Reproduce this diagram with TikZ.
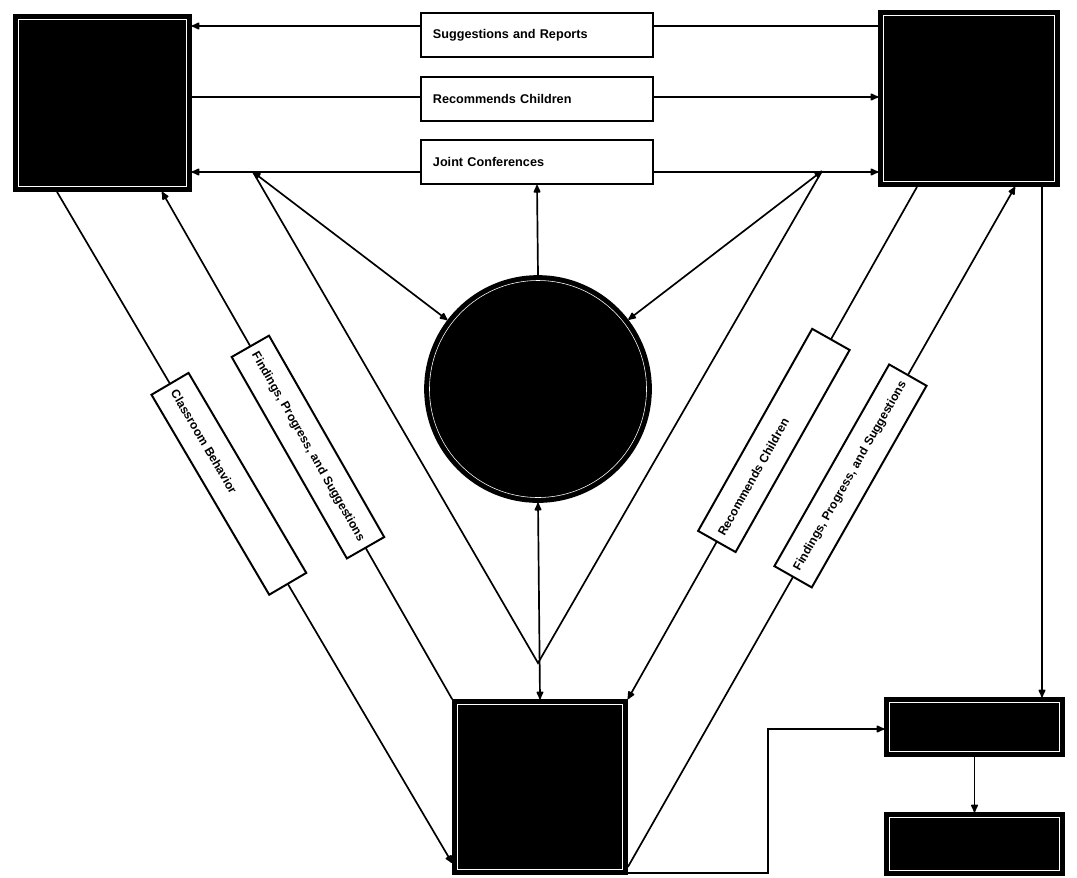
\documentclass[tikz,border=0pt]{standalone}
\usepackage{fontspec}
\setmainfont{Liberation Sans}
\usetikzlibrary{arrows.meta}
\tikzset{photo/.style={rectangle,fill=black,draw=black,line width=3.6pt,double=white,double distance=0.4pt,outer sep=3.8pt,inner sep=0pt},
  lbl/.style={rectangle,draw,fill=white,line width=1.4pt,minimum height=1.1cm,text width=5.2cm,inner xsep=0.3cm,align=left,font=\fontsize{9}{11}\selectfont\bfseries},
  side/.style={rectangle,draw,fill=white,line width=1.4pt,minimum height=1.075cm,text width=5.4cm,inner xsep=0.2cm,align=left,font=\fontsize{8.6}{10}\selectfont\bfseries},
  link/.style={line width=1.2pt},
  linkto/.style={line width=1.2pt,-{Latex[length=7pt,width=6pt,round]}},
  linkboth/.style={line width=1.2pt,{Latex[length=7pt,width=6pt,round]}-{Latex[length=7pt,width=6pt,round]}}}

\begin{document}
\begin{tikzpicture}[x=0.025cm,y=-0.025cm]
      \useasboundingbox (0,0) rectangle (1077,877);
      \node[photo,minimum width=4.2cm,minimum height=4.175cm] (TL) at (102.5,103) {};
      \node[photo,minimum width=4.275cm,minimum height=4.15cm] (TR) at (969,98.5) {};
      \node[photo,minimum size=4.125cm] (BB) at (540,787) {};
      \node[photo,minimum width=4.25cm,minimum height=1.225cm] (SB1) at (974.5,727) {};
      \node[photo,minimum width=4.25cm,minimum height=1.325cm] (SB2) at (974.5,844) {};
      \node[photo,circle,minimum size=5.425cm] (circ) at (538,389) {};

      \node[lbl] (sugg) at (537,35) {Suggestions and Reports};
      \node[lbl] (recch) at (537,99) {Recommends Children};
      \node[lbl] (joint) at (537,162) {Joint Conferences};

      \coordinate (j1) at (253,172);
      \coordinate (j2) at (822,171);
      \coordinate (m) at (538,663);

      \draw[link] (TR.west |- 0,26) -- (sugg.east |- 0,26);
      \draw[linkto] (sugg.west |- 0,26) -- (TL.east |- 0,26);
      \draw[link] (TL.east |- 0,97) -- (recch.west |- 0,97);
      \draw[linkto] (recch.east |- 0,97) -- (TR.west |- 0,97);
      \draw[linkto] (joint.west |- 0,172) -- (TL.east |- 0,172);
      \draw[linkto] (joint.east |- 0,172) -- (TR.west |- 0,172);
      \draw[linkto] (circ.north) -- (joint.south);
      \draw[linkboth] (j1) -- (circ);
      \draw[linkboth] (j2) -- (circ);
      \draw[link] (j1) -- (m) -- (j2);
      \draw[linkboth] (circ.south) -- (BB.north);

      \draw[linkto] (TL.south -| 57,0) -- node[side,sloped,pos=0.435] {Classroom Behavior} (BB.west |- 0,863);
      \draw[linkto] (BB.north west) -- node[side,sloped,pos=0.497] {Findings, Progress, and Suggestions} (TL.south -| 162,0);
      \draw[linkto] (TR.south -| 917,0) -- node[side,sloped,pos=0.495] {Recommends Children} (BB.north east);
      \draw[linkto] (BB.east |- 0,867) -- node[side,sloped,pos=0.575] {Findings, Progress, and Suggestions} (TR.south -| 1015,0);

      \draw[linkto] (TR.south -| 1042,0) -- (SB1.north -| 1042,0);
      \draw[linkto] (BB.east |- 0,873) -| (768,729) -- (SB1.west |- 0,729);
      \draw[linkto] (SB1.south) -- (SB2.north);
    \end{tikzpicture}
\end{document}
